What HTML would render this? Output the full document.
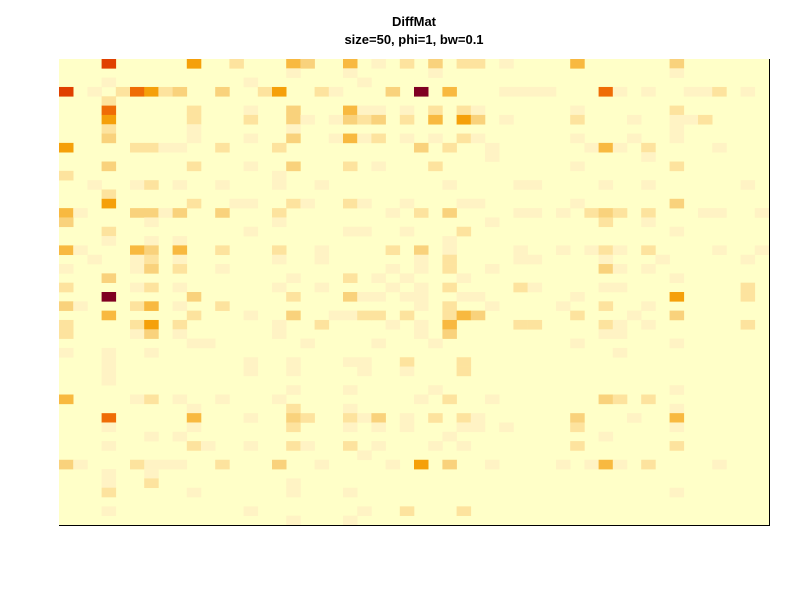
<!DOCTYPE html>
<html><head><meta charset="utf-8"><style>
body{margin:0;background:#fff;}
svg{display:block;font-family:"Liberation Sans",sans-serif;}
</style></head><body>
<svg id="chart" width="800" height="600">
<text x="414" y="26" text-anchor="middle" font-size="13" font-weight="bold">DiffMat</text>
<text x="414" y="44" text-anchor="middle" font-size="13" font-weight="bold">size=50, phi=1, bw=0.1</text>
<rect x="59" y="59" width="710" height="466" fill="#ffffc8"/>
<g id="cells"></g>
<line x1="59" y1="525.5" x2="769.5" y2="525.5" stroke="#000"/>
<line x1="769.5" y1="59" x2="769.5" y2="526" stroke="#000"/>
</svg>
<script>
const nRows = 50;
const nCols = 50;
// sparse non-background cells: "row:col:level"
const cellData = [
"0:3:7","0:9:5","0:12:2","0:16:4","0:17:3","0:20:4","0:22:1","0:24:2","0:26:3","0:28:2","0:29:2","0:31:1","0:36:4","0:43:3",
"1:16:1","1:20:1","1:26:1","1:43:1",
"2:3:1","2:13:1","2:21:1",
"3:0:7","3:2:1","3:4:2","3:5:6","3:6:5","3:7:2","3:8:3","3:11:3","3:14:2","3:15:5","3:18:2","3:19:1","3:23:3","3:25:8","3:27:4","3:31:1","3:32:1","3:33:1","3:34:1","3:38:6","3:39:1","3:41:1","3:44:1","3:45:1","3:46:2","3:48:1",
"4:3:2",
"5:3:6","5:9:2","5:13:1","5:16:3","5:20:4","5:21:1","5:22:1","5:24:1","5:26:2","5:28:2","5:29:1","5:36:1","5:43:2",
"6:3:5","6:9:2","6:13:2","6:16:3","6:17:1","6:19:1","6:20:3","6:21:2","6:22:3","6:24:2","6:26:4","6:28:5","6:29:3","6:31:1","6:36:2","6:40:1","6:43:1","6:44:1","6:45:2",
"7:3:2","7:9:1","7:16:1","7:43:1",
"8:3:3","8:9:1","8:13:1","8:16:3","8:19:1","8:20:4","8:21:1","8:22:2","8:24:1","8:26:1","8:28:2","8:29:1","8:36:1","8:40:1","8:43:1",
"9:0:5","9:5:2","9:6:2","9:7:1","9:8:1","9:11:2","9:15:2","9:25:3","9:27:2","9:30:1","9:37:1","9:38:4","9:39:1","9:41:2","9:46:1",
"10:30:1","10:41:1",
"11:3:3","11:9:2","11:13:1","11:16:3","11:20:2","11:22:1","11:26:2","11:36:1","11:43:2",
"12:0:2","12:15:1",
"13:2:1","13:5:1","13:6:2","13:8:1","13:11:1","13:15:1","13:18:1","13:27:1","13:32:1","13:33:1","13:38:1","13:41:1","13:48:1",
"14:3:2",
"15:3:5","15:9:2","15:12:1","15:13:1","15:16:2","15:17:1","15:20:2","15:21:1","15:24:1","15:28:1","15:29:1","15:36:1","15:43:3",
"16:0:4","16:1:1","16:5:3","16:6:3","16:7:1","16:8:3","16:11:3","16:15:2","16:23:1","16:25:2","16:27:3","16:32:1","16:33:1","16:35:1","16:37:2","16:38:3","16:39:2","16:41:2","16:45:1","16:46:1","16:49:1",
"17:0:3","17:6:1","17:15:1","17:30:1","17:38:2","17:41:1",
"18:3:2","18:13:1","18:20:1","18:21:1","18:24:1","18:28:2","18:43:1",
"19:3:1","19:6:1","19:8:1","19:27:1",
"20:0:4","20:1:1","20:5:4","20:6:3","20:8:4","20:11:2","20:15:2","20:18:1","20:23:2","20:25:3","20:27:1","20:32:1","20:35:1","20:37:1","20:38:2","20:39:1","20:41:2","20:46:1","20:49:1",
"21:2:1","21:5:1","21:6:2","21:8:1","21:15:1","21:18:1","21:25:1","21:27:2","21:32:1","21:33:1","21:38:1","21:42:1","21:48:1",
"22:0:1","22:5:1","22:6:3","22:8:2","22:11:1","22:23:1","22:25:1","22:27:2","22:30:1","22:38:3","22:39:1","22:41:1",
"23:3:3","23:16:1","23:20:2","23:22:1","23:24:1","23:28:1","23:43:1",
"24:0:2","24:5:1","24:6:2","24:8:1","24:15:1","24:18:1","24:23:1","24:25:1","24:27:2","24:32:2","24:33:1","24:38:1","24:39:1","24:48:2",
"25:3:8","25:9:3","25:16:2","25:20:3","25:21:1","25:22:1","25:24:1","25:25:1","25:28:1","25:29:1","25:36:1","25:43:5","25:48:2",
"26:0:3","26:1:1","26:5:2","26:6:4","26:8:1","26:11:2","26:25:1","26:27:2","26:30:1","26:35:1","26:38:2","26:41:1",
"27:3:4","27:9:2","27:13:1","27:16:3","27:19:1","27:20:1","27:21:2","27:22:2","27:24:2","27:27:2","27:28:4","27:29:3","27:36:2","27:40:1","27:43:3",
"28:0:2","28:5:2","28:6:5","28:8:2","28:15:1","28:18:2","28:23:1","28:25:1","28:27:4","28:32:2","28:33:2","28:38:2","28:39:1","28:41:1","28:48:2",
"29:0:2","29:5:1","29:6:3","29:8:1","29:15:1","29:25:1","29:27:3","29:38:1","29:39:1",
"30:9:1","30:10:1","30:17:1","30:22:1","30:26:1","30:36:1","30:43:1",
"31:0:1","31:3:1","31:6:1","31:39:1",
"32:3:1","32:13:1","32:16:1","32:20:1","32:21:1","32:24:2","32:28:2",
"33:3:1","33:13:1","33:16:1","33:21:1","33:24:1","33:28:2",
"34:3:1",
"35:16:1","35:20:1","35:26:1","35:43:1",
"36:0:4","36:5:1","36:6:2","36:8:1","36:11:1","36:15:1","36:25:1","36:27:2","36:30:1","36:38:3","36:39:2","36:41:2",
"37:9:1","37:16:2","37:20:1","37:43:1",
"38:3:6","38:9:4","38:13:1","38:16:3","38:17:2","38:20:2","38:21:1","38:22:3","38:24:1","38:26:2","38:28:2","38:29:1","38:36:3","38:40:1","38:43:4",
"39:3:1","39:9:1","39:16:2","39:20:1","39:22:1","39:24:1","39:28:1","39:29:1","39:31:1","39:36:2","39:43:1",
"40:6:1","40:8:1","40:27:1","40:38:1",
"41:3:1","41:9:2","41:10:1","41:13:1","41:16:2","41:17:1","41:20:2","41:22:1","41:26:1","41:28:1","41:36:2","41:43:2",
"42:21:1",
"43:0:3","43:1:1","43:5:2","43:6:1","43:7:1","43:8:1","43:11:2","43:15:3","43:18:1","43:23:1","43:25:5","43:27:3","43:30:1","43:35:1","43:37:1","43:38:4","43:39:1","43:41:2","43:46:1",
"44:3:1","44:6:1",
"45:3:1","45:6:2","45:16:1",
"46:3:2","46:9:1","46:16:1","46:20:1","46:43:1",
"48:3:1","48:13:1","48:21:1","48:24:2","48:28:2",
"49:16:1","49:20:1"
];
const levelColors = ["#ffffc8","#fff3c4","#fde39e","#f9d27c","#f8b940","#f5a00a","#ef6c06","#e04000","#7f0022"];

const x0 = 59, x1 = 769, y0 = 59, y1 = 525;
function xScale(c){ return x0 + (x1 - x0) * c / nCols; }
function yScale(r){ return y0 + (y1 - y0) * r / nRows; }

const g = document.getElementById('cells');
const NS = 'http://www.w3.org/2000/svg';
cellData.forEach(function(s){
  const p = s.split(':').map(Number);
  const r = p[0], c = p[1], lv = p[2];
  const rect = document.createElementNS(NS, 'rect');
  rect.setAttribute('x', xScale(c));
  rect.setAttribute('y', yScale(r));
  rect.setAttribute('width', xScale(c + 1) - xScale(c) + 0.3);
  rect.setAttribute('height', yScale(r + 1) - yScale(r) + 0.3);
  rect.setAttribute('fill', levelColors[lv]);
  
  
  g.appendChild(rect);
});
</script>
</body></html>
